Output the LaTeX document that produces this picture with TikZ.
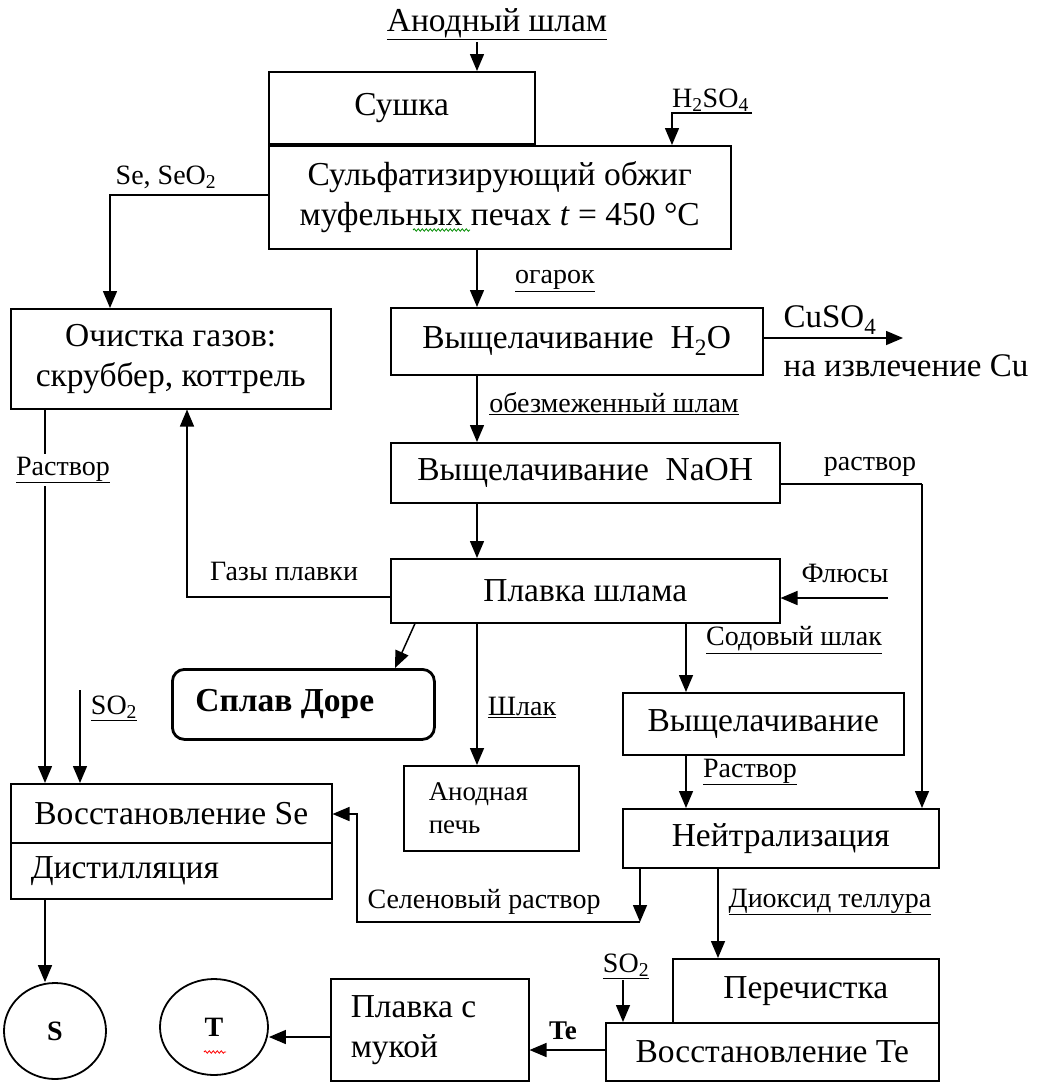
\documentclass[tikz,border=0pt]{standalone}
\usepackage{fontspec}
\setmainfont{Liberation Serif}
\usetikzlibrary{arrows.meta,decorations.pathmorphing,calc,shapes.geometric}
\begin{document}
\begin{tikzpicture}[x=1pt,y=-1pt,
 box/.style={draw, line width=1.5pt, anchor=north west, inner sep=0pt, align=center, font=\fontsize{33.5}{40}\selectfont},
 lbl/.style={inner sep=1pt, font=\fontsize{28}{32}\selectfont},
 arr/.style={line width=1.5pt, -{Triangle[length=17pt,width=14pt]}},
 ln/.style={line width=1.5pt},
 endpt/.style={draw, ellipse, line width=1.8pt, inner sep=0pt, font=\fontsize{28}{30}\selectfont\bfseries},
 wavy/.style={line width=0.8pt, decorate, decoration={snake, amplitude=1.2pt, segment length=4pt}}]
\useasboundingbox[fill=white] (0,0) rectangle (1038,1082);

% column / row helpers
\foreach \n/\x in {c477/477,c672/672,c110/110,c45/45,c80/80,c187/187,c415/415,c395/395,c686/686,c922/922,c640/640,c718/718,c357/357}
  {\coordinate (\n) at (\x,0);}
\foreach \n/\y in {r484/484,r597/597,r814/814,r922/922,r1050/1050,r1037/1037}
  {\coordinate (\n) at (0,\y);}

% boxes
\node[box, minimum width=266pt, minimum height=72pt] (sushka) at (268,71) {Сушка};
\node[box, minimum width=462pt, minimum height=103pt] (sulf) at (268,145)
  {Сульфатизирующий обжиг\\муфельных печах \textit{t} = 450 °C};
\node[box, minimum width=320pt, minimum height=100pt] (ochist) at (10,308)
  {Очистка газов:\\скруббер, коттрель};
\node[box, minimum width=372pt, minimum height=67pt] (vh2o) at (390,307)
  {Выщелачивание\ \ H\textsubscript{2}O};
\node[box, minimum width=389pt, minimum height=60pt] (naoh) at (390,442)
  {Выщелачивание\ \ NaOH};
\node[box, minimum width=389pt, minimum height=64pt] (plavka) at (390,558)
  {Плавка шлама};
\node[box, line width=2.8pt, rounded corners=12pt, minimum width=262pt, minimum height=70pt,
  text width=216pt, inner xsep=23pt, align=flush left] (dore) at (171,668)
  {\textbf{Сплав Доре}};
\node[box, minimum width=175pt, minimum height=85pt, text width=125pt, inner xsep=25pt,
  align=flush left, font=\fontsize{27}{33}\selectfont] (anp) at (403,765)
  {Анодная\\печь};
\node[box, minimum width=281pt, minimum height=62pt] (vysh) at (622,692)
  {Выщелачивание};
\node[box, minimum width=316pt, minimum height=59pt] (neut) at (622,808)
  {Нейтрализация};
\node[box, minimum width=321pt, minimum height=59pt] (vse) at (10,783)
  {Восстановление Se};
\node[box, minimum width=321pt, minimum height=56pt, text width=281pt, inner xsep=20pt,
  align=flush left] (dist) at (10,842) {Дистилляция};
\node[box, minimum width=266pt, minimum height=64pt] (perech) at (672,958)
  {Перечистка};
\node[box, minimum width=333pt, minimum height=58pt] (vte) at (605,1022)
  {Восстановление Te};
\node[box, minimum width=198pt, minimum height=102pt, text width=158pt, inner xsep=20pt,
  align=flush left] (muk) at (330,978) {Плавка с\\мукой};
\node[endpt, minimum width=102pt, minimum height=96pt] (S) at (55,1031) {S};
\node[endpt, minimum width=108pt, minimum height=96pt] (T) at (214,1027) {T};

% input labels
\node[inner sep=2pt, font=\fontsize{33.5}{40}\selectfont] (anod) at (497,24) {\underline{Анодный шлам}};
\node[lbl, anchor=south west, inner sep=0pt] (h2so4) at (672,112) {H\textsubscript{2}SO\textsubscript{4}};
\coordinate (h2e) at (752,113);

% connectors
\draw[arr] (anod.south -| c477) -- (sushka.north -| c477);
\draw[arr] (h2e) -- (h2e -| c672) -- (sulf.north -| c672);
\draw[arr] (sulf.west |- 0,195) -| (ochist.north -| c110);
\node[lbl] (sese) at (166,177) {Se, SeO\textsubscript{2}};
\draw[arr] (sulf.south -| c477) -- (vh2o.north -| c477);
\node[lbl] (ogar) at (555,281) {\underline{огарок}};
\coordinate (cuend) at (903,338);
\draw[arr] (vh2o.east |- cuend) -- (cuend);
\node[lbl, font=\fontsize{33}{36}\selectfont] (cuso) at (830,320) {CuSO\textsubscript{4}};
\node[lbl, font=\fontsize{33}{36}\selectfont] (naizv) at (906,366) {на извлечение Cu};
\draw[arr] (vh2o.south -| c477) -- (naoh.north -| c477);
\node[lbl] (obezm) at (614,404) {\underline{обезмеженный шлам}};
\draw[ln] (naoh.east |- r484) -| (c922 |- r484);
\draw[arr] (c922 |- r484) -- (neut.north -| c922);
\node[lbl] (rastv1) at (870,467) {раствор};
\draw[arr] (naoh.south -| c477) -- (plavka.north -| c477);
\coordinate (flst) at (888,598);
\draw[arr] (flst) -- (plavka.east |- flst);
\node[lbl] (flus) at (845,573) {Флюсы};
\draw[arr] (plavka.west |- r597) -| (ochist.south -| c187);
\node[lbl] (gazy) at (284,571) {Газы плавки};
\draw[arr] (ochist.south -| c45) -- (vse.north -| c45);
\node[lbl, fill=white, inner ysep=3pt] (rastv2) at (63,470) {\underline{Раствор}};
\coordinate (so2a) at (80,690);
\draw[arr] (so2a) -- (vse.north -| so2a);
\node[lbl] (so2l) at (114,708) {\underline{SO\textsubscript{2}}};
\draw[arr] (plavka.south -| c415) -- (dore.north -| c395);
\draw[arr] (plavka.south -| c477) -- (anp.north -| c477);
\node[lbl] (shlak) at (522,707) {\underline{Шлак}};
\draw[arr] (plavka.south -| c686) -- (vysh.north -| c686);
\node[lbl] (sodov) at (794,640) {\underline{Содовый шлак}};
\draw[arr] (vysh.south -| c686) -- (neut.north -| c686);
\node[lbl] (rastv3) at (750,772) {\underline{Раствор}};
\draw[arr] (neut.south -| c640) -- (c640 |- r922);
\draw[arr] (c640 |- r922) -| (c357 |- r814) -- (vse.east |- r814);
\node[lbl] (selen) at (484,902) {Селеновый раствор};
\draw[arr] (neut.south -| c718) -- (perech.north -| c718);
\node[lbl] (diox) at (830,902) {\underline{Диоксид теллура}};
\coordinate (so2b) at (623,980);
\draw[arr] (so2b) -- (vte.north -| so2b);
\node[lbl] (so2r) at (626,966) {\underline{SO\textsubscript{2}}};
\draw[arr] (vte.west |- r1050) -- (muk.east |- r1050);
\node[lbl, font=\fontsize{27}{30}\selectfont\bfseries] (te) at (563,1031) {Te};
\draw[arr] (muk.west |- r1037) -- (T.east |- r1037);
\draw[arr] (dist.south -| c45) -- (S.north -| c45);

% spell-check squiggles
\draw[wavy, green!55!black] (413,230) -- (470,230);
\draw[wavy, red] (204,1052) -- (226,1052);
\end{tikzpicture}
\end{document}
